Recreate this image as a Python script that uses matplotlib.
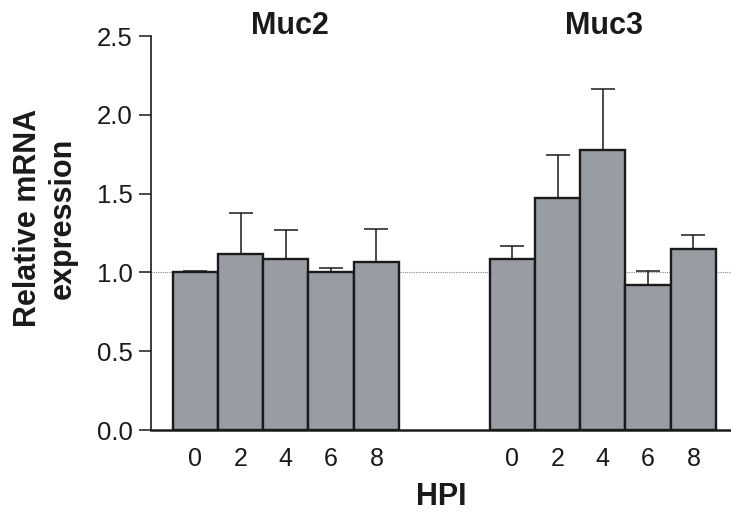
import numpy as np
import matplotlib
matplotlib.use('Agg')
import matplotlib.pyplot as plt
import matplotlib.transforms as mtransforms

plt.rcParams['font.family'] = ['Liberation Sans', 'DejaVu Sans']

# data
genes = ['Muc2', 'Muc3']
hpi_labels = ['0', '2', '4', '6', '8']
muc2_mean = [1.00, 1.12, 1.085, 1.00, 1.065]
muc2_err = [0.01, 0.26, 0.185, 0.025, 0.21]
muc3_mean = [1.083, 1.472, 1.779, 0.922, 1.148]
muc3_err = [0.083, 0.27, 0.385, 0.087, 0.087]

bar_color = '#989ca3'

fig = plt.figure(figsize=(7.31, 5.11), dpi=100)
ax = fig.add_axes([0.2066, 0.1585, 0.7934, 0.771])

x2 = np.arange(len(muc2_mean))
x3 = np.arange(len(muc3_mean)) + 7

# reference line at 1.0
ax.axhline(1.0, color='#888888', lw=0.8, ls=(0, (1, 1)), zorder=1)

for xs, means, errs in [(x2, muc2_mean, muc2_err), (x3, muc3_mean, muc3_err)]:
    ax.errorbar(xs, means, yerr=[np.zeros(len(errs)), errs], fmt='none',
                ecolor='#1a1a1a', elinewidth=1.1, capsize=8.4, capthick=1.1, zorder=2)
    ax.bar(xs, means, width=1.0, color=bar_color, edgecolor='#1a1a1a',
           linewidth=1.7, zorder=3)

ax.set_xlim(-0.976, 11.83)
ax.set_ylim(0, 2.5)
ax.set_yticks([0.0, 0.5, 1.0, 1.5, 2.0, 2.5])
ax.set_yticklabels(['0.0', '0.5', '1.0', '1.5', '2.0', '2.5'])
ax.set_xticks(list(x2) + list(x3))
ax.set_xticklabels(hpi_labels + hpi_labels)

ax.spines['top'].set_visible(False)
ax.spines['right'].set_visible(False)
ax.spines['left'].set_linewidth(1.2)
ax.spines['bottom'].set_linewidth(1.8)
ax.spines['left'].set_color('#1a1a1a')
ax.spines['bottom'].set_color('#1a1a1a')

ax.tick_params(axis='y', direction='out', length=9, width=1.1, pad=4,
               labelsize=18.5, colors='#1a1a1a')
ax.tick_params(axis='x', length=0, pad=12, labelsize=18, colors='#1a1a1a')

ax.set_xlabel('HPI', fontsize=22, fontweight='bold', labelpad=8, color='#1a1a1a')

fig.text(45 / 731, 1 - 218 / 511, 'Relative mRNA\nexpression', rotation=90,
         ha='center', va='center', multialignment='center',
         fontsize=22, fontweight='bold', color='#1a1a1a', linespacing=1.2)

trans = mtransforms.blended_transform_factory(ax.transData, fig.transFigure)
ax.text(2.09, 1 - 26 / 511, genes[0], transform=trans, ha='center', va='center',
        fontsize=22, fontweight='bold', color='#1a1a1a')
ax.text(9.02, 1 - 26 / 511, genes[1], transform=trans, ha='center', va='center',
        fontsize=22, fontweight='bold', color='#1a1a1a')

fig.savefig('out.png', dpi=100)
